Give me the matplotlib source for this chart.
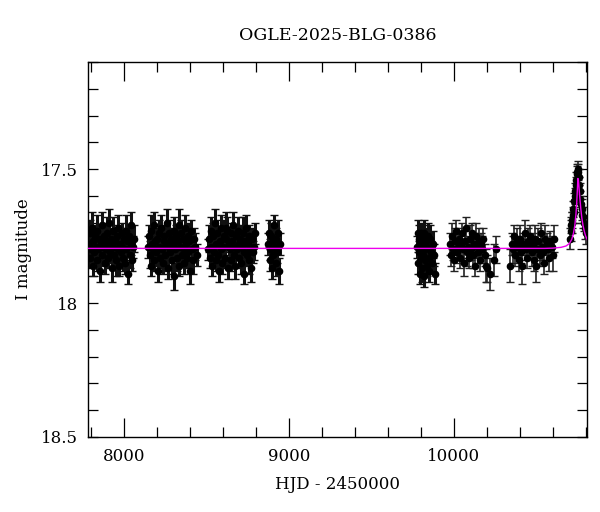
import numpy as np
import matplotlib
matplotlib.use("Agg")
import matplotlib.pyplot as plt
from matplotlib.ticker import MultipleLocator

# OGLE-2025-BLG-0386 light curve
# HJD - 2450000, I magnitude, error -- one set of lists per observing season

t1 = [7786, 7791, 7795, 7800, 7806, 7810, 7815, 7819, 7825, 7830, 7834, 7839, 7845, 7849, 7854,
      7858, 7864, 7869, 7873, 7878, 7884, 7888, 7893, 7897, 7903, 7908, 7912, 7917, 7923, 7927,
      7932, 7936, 7942, 7947, 7951, 7956, 7962, 7966, 7971, 7975, 7981, 7986, 7990, 7995, 8001,
      8005, 8010, 8014, 8020, 8025, 8029, 8034, 8040, 8045, 8050, 8056, 8063]
m1 = [17.78, 17.74, 17.83, 17.80, 17.72, 17.86, 17.77, 17.81, 17.75, 17.79, 17.84, 17.73, 17.80, 17.76, 17.88,
      17.78, 17.71, 17.82, 17.79, 17.75, 17.85, 17.77, 17.80, 17.74, 17.83, 17.78, 17.70, 17.81, 17.76, 17.87,
      17.79, 17.73, 17.82, 17.77, 17.84, 17.75, 17.80, 17.72, 17.86, 17.78, 17.81, 17.74, 17.79, 17.83, 17.76,
      17.85, 17.73, 17.80, 17.77, 17.89, 17.75, 17.82, 17.78, 17.71, 17.84, 17.79, 17.76]
e1 = [0.04, 0.05, 0.04, 0.04, 0.06, 0.04, 0.05, 0.04, 0.04, 0.05, 0.04, 0.06, 0.04, 0.05, 0.04,
      0.04, 0.05, 0.04, 0.04, 0.05, 0.04, 0.04, 0.05, 0.06, 0.04, 0.04, 0.05, 0.04, 0.04, 0.05,
      0.04, 0.05, 0.04, 0.04, 0.06, 0.04, 0.04, 0.05, 0.04, 0.04, 0.05, 0.04, 0.04, 0.05, 0.04,
      0.04, 0.06, 0.04, 0.05, 0.04, 0.04, 0.05, 0.04, 0.05, 0.04, 0.04, 0.05]

t2 = [8146, 8151, 8155, 8161, 8166, 8170, 8176, 8181, 8185, 8191, 8196, 8200, 8206, 8211, 8215,
      8221, 8226, 8230, 8236, 8241, 8245, 8251, 8256, 8260, 8266, 8271, 8275, 8281, 8286, 8290,
      8296, 8301, 8305, 8311, 8316, 8320, 8326, 8331, 8335, 8341, 8346, 8350, 8356, 8361, 8365,
      8371, 8376, 8380, 8386, 8391, 8396, 8401, 8407, 8412, 8418, 8425, 8432, 8440]
m2 = [17.79, 17.75, 17.82, 17.73, 17.86, 17.78, 17.80, 17.71, 17.84, 17.77, 17.81, 17.76, 17.88, 17.74, 17.79,
      17.83, 17.72, 17.80, 17.85, 17.77, 17.75, 17.82, 17.78, 17.70, 17.87, 17.79, 17.74, 17.81, 17.76, 17.84,
      17.78, 17.73, 17.90, 17.80, 17.75, 17.83, 17.77, 17.71, 17.86, 17.79, 17.74, 17.82, 17.76, 17.80, 17.85,
      17.72, 17.78, 17.83, 17.75, 17.81, 17.77, 17.88, 17.73, 17.80, 17.84, 17.76, 17.79, 17.82]
e2 = [0.04, 0.04, 0.05, 0.06, 0.04, 0.04, 0.05, 0.05, 0.04, 0.04, 0.05, 0.04, 0.04, 0.05, 0.04,
      0.04, 0.05, 0.04, 0.04, 0.05, 0.04, 0.06, 0.04, 0.05, 0.04, 0.04, 0.05, 0.04, 0.04, 0.05,
      0.04, 0.05, 0.05, 0.04, 0.04, 0.05, 0.04, 0.06, 0.04, 0.04, 0.05, 0.04, 0.04, 0.05, 0.04,
      0.05, 0.04, 0.04, 0.05, 0.04, 0.04, 0.05, 0.04, 0.04, 0.05, 0.04, 0.05, 0.04]

t3 = [8511, 8516, 8520, 8526, 8530, 8535, 8541, 8545, 8550, 8556, 8560, 8565, 8571, 8575, 8580,
      8586, 8590, 8595, 8601, 8605, 8610, 8616, 8620, 8625, 8631, 8635, 8640, 8646, 8650, 8655,
      8661, 8665, 8670, 8676, 8680, 8685, 8691, 8695, 8700, 8706, 8710, 8715, 8721, 8725, 8730,
      8736, 8740, 8745, 8751, 8755, 8760, 8766, 8770, 8776, 8781, 8787, 8792]
m3 = [17.80, 17.76, 17.83, 17.73, 17.79, 17.86, 17.75, 17.81, 17.70, 17.84, 17.78, 17.74, 17.82, 17.88, 17.77,
      17.80, 17.72, 17.85, 17.79, 17.75, 17.83, 17.76, 17.72, 17.73, 17.87, 17.78, 17.80, 17.74, 17.84, 17.77,
      17.71, 17.82, 17.79, 17.86, 17.75, 17.80, 17.73, 17.83, 17.78, 17.76, 17.85, 17.79, 17.74, 17.81, 17.89,
      17.77, 17.72, 17.82, 17.78, 17.84, 17.75, 17.80, 17.87, 17.76, 17.81, 17.79, 17.74]
e3 = [0.04, 0.05, 0.04, 0.05, 0.04, 0.04, 0.05, 0.04, 0.05, 0.04, 0.04, 0.05, 0.04, 0.04, 0.05,
      0.04, 0.05, 0.04, 0.04, 0.06, 0.04, 0.04, 0.06, 0.05, 0.04, 0.04, 0.05, 0.04, 0.04, 0.05,
      0.05, 0.04, 0.04, 0.05, 0.04, 0.04, 0.05, 0.04, 0.04, 0.05, 0.04, 0.04, 0.06, 0.04, 0.04,
      0.05, 0.05, 0.04, 0.04, 0.05, 0.04, 0.04, 0.05, 0.04, 0.04, 0.05, 0.04]

t4 = [8874, 8879, 8883, 8888, 8892, 8897, 8901, 8906, 8910, 8915, 8919, 8924, 8929, 8934, 8939, 8944]
m4 = [17.78, 17.74, 17.84, 17.80, 17.75, 17.87, 17.77, 17.82, 17.71, 17.79, 17.85, 17.76, 17.81, 17.74, 17.88, 17.78]
e4 = [0.04, 0.05, 0.04, 0.04, 0.05, 0.04, 0.04, 0.05, 0.04, 0.04, 0.05, 0.04, 0.04, 0.05, 0.05, 0.04]

t5 = [9777, 9780, 9783, 9786, 9789, 9792, 9795, 9798, 9801, 9804, 9807, 9810, 9813, 9816, 9819,
      9822, 9825, 9828, 9831, 9835, 9839, 9843, 9847, 9851, 9856, 9861, 9866, 9872, 9878, 9884]
m5 = [17.79, 17.74, 17.85, 17.81, 17.76, 17.89, 17.78, 17.83, 17.74, 17.80, 17.87, 17.75, 17.82, 17.78, 17.90,
      17.74, 17.84, 17.80, 17.77, 17.86, 17.79, 17.75, 17.83, 17.88, 17.76, 17.81, 17.85, 17.78, 17.82, 17.89]
e5 = [0.04, 0.05, 0.04, 0.04, 0.05, 0.04, 0.04, 0.05, 0.04, 0.04, 0.05, 0.04, 0.04, 0.05, 0.04,
      0.05, 0.04, 0.04, 0.05, 0.04, 0.04, 0.05, 0.04, 0.04, 0.05, 0.04, 0.04, 0.05, 0.04, 0.04]

t6 = [9977, 9983, 9989, 9995, 10001, 10006, 10012, 10018, 10024, 10030, 10036, 10042, 10048, 10054,
      10060, 10066, 10072, 10078, 10084, 10090, 10096, 10102, 10108, 10114, 10120, 10126, 10132, 10138,
      10144, 10150, 10157, 10164, 10171, 10178, 10186, 10194, 10203, 10221, 10245, 10258]
m6 = [17.78, 17.82, 17.75, 17.80, 17.84, 17.77, 17.73, 17.81, 17.79, 17.76, 17.83, 17.78, 17.74, 17.80,
      17.85, 17.77, 17.72, 17.81, 17.79, 17.83, 17.76, 17.80, 17.74, 17.82, 17.78, 17.86, 17.75, 17.79,
      17.81, 17.77, 17.84, 17.78, 17.80, 17.76, 17.82, 17.86, 17.87, 17.89, 17.84, 17.80]
e6 = [0.04, 0.04, 0.05, 0.04, 0.04, 0.05, 0.04, 0.04, 0.05, 0.04, 0.04, 0.05, 0.04, 0.04,
      0.05, 0.04, 0.04, 0.05, 0.04, 0.04, 0.05, 0.04, 0.04, 0.05, 0.04, 0.04, 0.05, 0.04,
      0.04, 0.05, 0.04, 0.04, 0.05, 0.04, 0.04, 0.06, 0.05, 0.06, 0.06, 0.05]

t7 = [10341, 10350, 10358, 10366, 10373, 10380, 10387, 10394, 10401, 10408, 10415, 10422, 10429,
      10436, 10443, 10450, 10457, 10464, 10471, 10478, 10485, 10492, 10499, 10506, 10513, 10520,
      10527, 10534, 10541, 10548, 10555, 10562, 10569, 10576, 10584, 10592, 10601, 10610]
m7 = [17.86, 17.78, 17.80, 17.75, 17.82, 17.77, 17.79, 17.84, 17.76, 17.81, 17.86, 17.78, 17.74,
      17.80, 17.83, 17.77, 17.79, 17.75, 17.81, 17.78, 17.84, 17.76, 17.86, 17.80, 17.77, 17.82,
      17.74, 17.79, 17.81, 17.85, 17.76, 17.78, 17.80, 17.83, 17.77, 17.79, 17.82, 17.76]
e7 = [0.06, 0.04, 0.05, 0.04, 0.04, 0.05, 0.04, 0.04, 0.05, 0.04, 0.07, 0.04, 0.05,
      0.04, 0.04, 0.05, 0.04, 0.04, 0.05, 0.04, 0.04, 0.05, 0.06, 0.04, 0.05, 0.04,
      0.04, 0.05, 0.04, 0.04, 0.05, 0.04, 0.04, 0.05, 0.04, 0.04, 0.06, 0.05]

# the event itself
t8 = [10706, 10708, 10711, 10714, 10717, 10720, 10723, 10726, 10729, 10732, 10735, 10738, 10741, 10744,
      10747, 10750, 10753, 10756, 10759, 10762, 10766, 10770, 10774, 10778, 10783, 10788, 10794, 10800]
m8 = [17.76, 17.73, 17.71, 17.69, 17.70, 17.67, 17.65, 17.66, 17.62, 17.60, 17.58, 17.56, 17.54, 17.52,
      17.51, 17.50, 17.51, 17.53, 17.56, 17.58, 17.61, 17.63, 17.65, 17.67, 17.68, 17.70, 17.72, 17.74]
e8 = [0.04, 0.04, 0.03, 0.03, 0.04, 0.03, 0.03, 0.04, 0.03, 0.03, 0.03, 0.03, 0.03, 0.03,
      0.03, 0.03, 0.03, 0.03, 0.03, 0.03, 0.03, 0.03, 0.04, 0.03, 0.04, 0.03, 0.04, 0.04]

# fitted model, sampled by eye
model_t = [7780, 10550, 10600, 10650, 10680, 10700, 10715, 10725, 10733, 10740, 10745, 10749,
           10752, 10755, 10759, 10764, 10770, 10776, 10783, 10790, 10798, 10810]
model_m = [17.796, 17.796, 17.795, 17.792, 17.787, 17.778, 17.762, 17.740, 17.712, 17.670, 17.625, 17.575,
           17.535, 17.540, 17.570, 17.610, 17.650, 17.683, 17.710, 17.730, 17.748, 17.765]

# the first five seasons are packed solid in the reference, the later ones less so
dense = [(t1, m1, e1), (t2, m2, e2), (t3, m3, e3), (t4, m4, e4), (t5, m5, e5)]
sparse = [(t6, m6, e6), (t7, m7, e7), (t8, m8, e8)]

plt.rcParams['font.family'] = ['DejaVu Serif']

fig = plt.figure(figsize=(6, 5.12), dpi=100)
ax = fig.add_axes([0.1467, 0.1465, 0.8313, 0.7325])

for t, m, e in dense:
    ax.errorbar(t, m, yerr=e, fmt='o', color='black', ms=4.5, elinewidth=2.2,
                capsize=3, capthick=1.0, ecolor='#111111', zorder=2)
for t, m, e in sparse:
    ax.errorbar(t, m, yerr=e, fmt='o', color='black', ms=4.5, elinewidth=1.2,
                capsize=3, capthick=1.0, ecolor='#222222', zorder=2)

ax.plot(model_t, model_m, color='#ee00ee', lw=1.0, zorder=3)

ax.set_xlim(7782, 10806)
ax.set_ylim(18.5, 17.1)

ax.xaxis.set_major_locator(MultipleLocator(1000))
ax.xaxis.set_minor_locator(MultipleLocator(200))
ax.yaxis.set_major_locator(MultipleLocator(0.5))
ax.yaxis.set_minor_locator(MultipleLocator(0.1))
ax.yaxis.set_major_formatter(plt.FuncFormatter(lambda v, p: '%g' % v))

ax.tick_params(which='both', direction='in', top=True, right=True, labelsize=12, width=0.9)
ax.tick_params(axis='x', which='major', length=14, pad=8)
ax.tick_params(axis='x', which='minor', length=7)
ax.tick_params(axis='y', which='both', length=7, pad=7)
for s in ax.spines.values():
    s.set_linewidth(1.0)

ax.set_title('OGLE-2025-BLG-0386', fontsize=12.5, pad=16)
ax.set_xlabel('HJD - 2450000', fontsize=12, labelpad=8)
ax.set_ylabel('I magnitude', fontsize=12, labelpad=7)

fig.savefig('out.png', dpi=100)
